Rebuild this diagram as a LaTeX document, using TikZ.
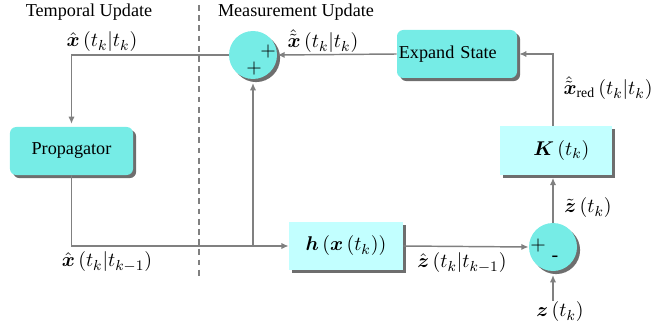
\documentclass[tikz,border=0pt]{standalone}
\usepackage{amsmath}
\usepackage[no-math]{fontspec}
\setmainfont{Liberation Serif}
\usetikzlibrary{shadows,arrows.meta}
\definecolor{turq}{RGB}{118,236,230}
\definecolor{lcyan}{RGB}{194,255,255}
\definecolor{lgray}{RGB}{128,128,128}
\definecolor{sgray}{RGB}{110,110,110}
\newcommand{\bx}{\boldsymbol{x}}
\newcommand{\bz}{\boldsymbol{z}}
\begin{document}
\begin{tikzpicture}[x=0.55pt,y=-0.55pt,
  line/.style={draw=lgray, line width=0.8pt},
  arr/.style={line, -{Latex[length=4pt,width=3.5pt]}},
  shade/.style={general shadow={fill=sgray, shadow xshift=1.7pt, shadow yshift=-1.7pt}},
  darkbox/.style={shade, fill=turq, rounded corners=3.5pt, minimum height=26.4pt, inner sep=1pt},
  lightbox/.style={shade, fill=lcyan, minimum height=26.6pt, inner sep=1pt, font=\fontsize{10.8}{13}\selectfont},
  sumnode/.style={shade, circle, fill=turq, minimum size=26.4pt, inner sep=0pt},
  lbl/.style={inner sep=0.5pt},
  mlbl/.style={inner sep=0.5pt, font=\fontsize{10.8}{13}\selectfont},
  sign/.style={inner sep=0pt, font=\fontsize{11}{13}\selectfont}
]
\useasboundingbox (0,0) rectangle (658,326);

% titles
\node[lbl] (tu) at (89,12) {Temporal Update};
\node[lbl] (mu) at (296,12) {Measurement Update};
\coordinate (dtop) at (199,5);
\coordinate (dbot) at (199,278);
\draw[lgray, line width=0.7pt, dash pattern=on 3.2pt off 2.4pt] (dtop) -- (dbot);

% blocks
\node[darkbox, minimum width=67.7pt] (prop) at (71.5,151) {Propagator};
\node[darkbox, text width=64pt, align=left] (exp) at (457,54) {Expand State};
\node[lightbox, minimum width=61.6pt] (K) at (556,150.5) {\hspace{6pt}$\boldsymbol{K}\left(t_k\right)$};
\node[lightbox, minimum width=62.7pt] (h) at (346,246) {$\boldsymbol{h}\left(\bx\left(t_k\right)\right)$};
\node[sumnode] (s1) at (253,55) {};
\node[sumnode] (s2) at (553,247) {};
\node[sign] (p1) at (268,52) {$+$};
\node[sign] (p2) at (254,69) {$+$};
\node[sign] (p3) at (538,246) {$+$};
\node[sign] (m1) at (555,259) {-};

% input z
\node[mlbl] (z) at (560,312) {$\bz\left(t_k\right)$};

% connectors
\coordinate (c1) at (prop.north |- s1.west);
\draw[arr, shorten >=1.5pt] (s1.west) -- (c1) -- (prop.north);
\draw[arr] (exp.west) -- (s1.east);
\coordinate (c2) at (s2.north |- exp.east);
\coordinate (c3) at (s2.north |- K.north);
\draw[arr, shorten >=1pt] (c3) -- (c2) -- (exp.east);
\coordinate (c4) at (prop.south |- h.west);
\coordinate (j1) at (s1.south |- h.west);
\draw[arr] (prop.south) -- (c4) -- (h.west);
\draw[arr, shorten >=2pt] (j1) -- (s1.south);
\draw[arr] (h.east) -- (s2.west);
\coordinate (c5) at (s2.north |- K.south);
\draw[arr, shorten >=1.5pt] (s2.north) -- (c5);
\coordinate (c6) at (s2.south |- z.north);
\draw[arr, shorten >=2pt] (c6) -- (s2.south);

% labels
\node[mlbl] (l1) at (102,42) {$\hat{\bx}\left(t_k|t_k\right)$};
\node[mlbl] (l2) at (323,41) {$\hat{\tilde{\bx}}\left(t_k|t_k\right)$};
\node[mlbl] (l3) at (608,88) {$\hat{\tilde{\bx}}_{\text{red}}\left(t_k|t_k\right)$};
\node[mlbl] (l4) at (107,262) {$\hat{\bx}\left(t_k|t_{k-1}\right)$};
\node[mlbl] (l5) at (462,263) {$\hat{\bz}\left(t_k|t_{k-1}\right)$};
\node[mlbl] (l6) at (588,208) {$\tilde{\bz}\left(t_k\right)$};
\end{tikzpicture}
\end{document}
